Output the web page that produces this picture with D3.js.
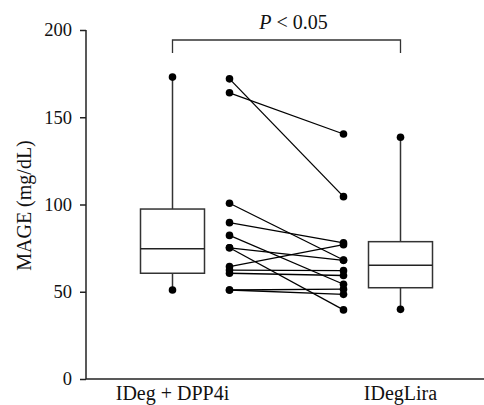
<!DOCTYPE html>
<html>
<head>
<meta charset="utf-8">
<script src="https://cdn.jsdelivr.net/npm/d3@7"></script>
<style>
  body { margin: 0; background: #fff; }
  text { font-family: "Liberation Serif", "DejaVu Serif", serif; fill: #111; }
</style>
</head>
<body>
<script>
// group names and the y axis ticks
var groups = ["IDeg + DPP4i", "IDegLira"];
var yTicks = [0, 50, 100, 150, 200];

// box summaries: [min, q1, median, q3, max]
var boxBefore = [51, 60.6, 74.7, 97.4, 173];
var boxAfter = [39.9, 52.3, 65.2, 78.7, 138.5];

// paired patient values, same order in both arrays
var before = [172, 164, 100.7, 89.6, 82.3, 75.2, 75.2, 64.4, 62.4, 60.6, 51, 51];
var after  = [104.5, 140.4, 68.2, 78, 54.3, 68, 39.6, 77, 62.1, 59.3, 51.5, 48.5];

var width = 484, height = 405;
var margin = {top: 30, right: 0, bottom: 26, left: 86};

var svg = d3.select("body").append("svg")
  .attr("width", width)
  .attr("height", height);

var y = d3.scaleLinear()
  .domain([0, 200])
  .range([height - margin.bottom, margin.top]);

// slots: 0 = left box, 1 = left pair column, 3 = right pair column, 4 = right box
var x = d3.scaleLinear()
  .domain([0, 4])
  .range([172.5, 400.5]);

var boxW = 64;

// y axis
var yAxis = svg.append("g")
  .attr("transform", "translate(" + margin.left + ",0)")
  .call(d3.axisLeft(y).tickValues(yTicks).tickSize(6).tickPadding(8));
yAxis.select(".domain").attr("d", "M0," + y(200) + "V" + y(0));
yAxis.selectAll("line, path").attr("stroke", "#222").attr("stroke-width", 1.5);
yAxis.selectAll("text")
  .style("font-family", "Liberation Serif, serif")
  .style("font-size", "18.5px")
  .attr("fill", "#111");

// x axis line
svg.append("line")
  .attr("x1", margin.left)
  .attr("x2", width)
  .attr("y1", y(0))
  .attr("y2", y(0))
  .attr("stroke", "#222")
  .attr("stroke-width", 1.5);

svg.selectAll(".glabel")
  .data(groups)
  .enter()
    .append("text")
      .attr("class", "glabel")
      .attr("x", function(d, i) { return x(i * 4); })
      .attr("y", y(0) + 21)
      .attr("text-anchor", "middle")
      .style("font-size", "20px")
      .text(function(d) { return d; });

svg.append("text")
  .attr("transform", "translate(31," + (y(100) + 1) + ") rotate(-90)")
  .attr("text-anchor", "middle")
  .style("font-size", "20px")
  .text("MAGE (mg/dL)");

// box plots
function drawBox(stats, slot) {
  var cx = x(slot);
  var g = svg.append("g");
  g.append("line")
    .attr("x1", cx).attr("x2", cx)
    .attr("y1", y(stats[0])).attr("y2", y(stats[4]))
    .attr("stroke", "#333").attr("stroke-width", 1.5);
  g.append("rect")
    .attr("x", cx - boxW / 2)
    .attr("y", y(stats[3]))
    .attr("width", boxW)
    .attr("height", y(stats[1]) - y(stats[3]))
    .attr("fill", "#fff")
    .attr("stroke", "#333")
    .attr("stroke-width", 1.5);
  g.append("line")
    .attr("x1", cx - boxW / 2).attr("x2", cx + boxW / 2)
    .attr("y1", y(stats[2])).attr("y2", y(stats[2]))
    .attr("stroke", "#222").attr("stroke-width", 1.5);
  g.selectAll("circle")
    .data([stats[0], stats[4]])
    .enter()
      .append("circle")
        .attr("cx", cx)
        .attr("cy", function(d) { return y(d); })
        .attr("r", 3.8)
        .attr("fill", "#000");
}
drawBox(boxBefore, 0);
drawBox(boxAfter, 4);

// paired lines
var pairs = before.map(function(d, i) { return {a: d, b: after[i]}; });

svg.selectAll(".pair")
  .data(pairs)
  .enter()
    .append("line")
      .attr("class", "pair")
      .attr("x1", x(1))
      .attr("x2", x(3))
      .attr("y1", function(d) { return y(d.a); })
      .attr("y2", function(d) { return y(d.b); })
      .attr("stroke", "#000")
      .attr("stroke-width", 1.3);

svg.selectAll(".dotA")
  .data(before)
  .enter()
    .append("circle")
      .attr("cx", x(1))
      .attr("cy", function(d) { return y(d); })
      .attr("r", 3.8)
      .attr("fill", "#000");

svg.selectAll(".dotB")
  .data(after)
  .enter()
    .append("circle")
      .attr("cx", x(3))
      .attr("cy", function(d) { return y(d); })
      .attr("r", 3.8)
      .attr("fill", "#000");

// significance bracket
var by = 40;
svg.append("path")
  .attr("d", "M" + x(0) + "," + (by + 13) + "V" + by + "H" + x(4) + "V" + (by + 13))
  .attr("fill", "none")
  .attr("stroke", "#333")
  .attr("stroke-width", 1.3);

var ptxt = svg.append("text")
  .attr("x", (x(0) + x(4)) / 2 + 7)
  .attr("y", 29)
  .attr("text-anchor", "middle")
  .style("font-size", "20px");
ptxt.append("tspan").style("font-style", "italic").text("P");
ptxt.append("tspan").text(" < 0.05");
</script>
</body>
</html>
